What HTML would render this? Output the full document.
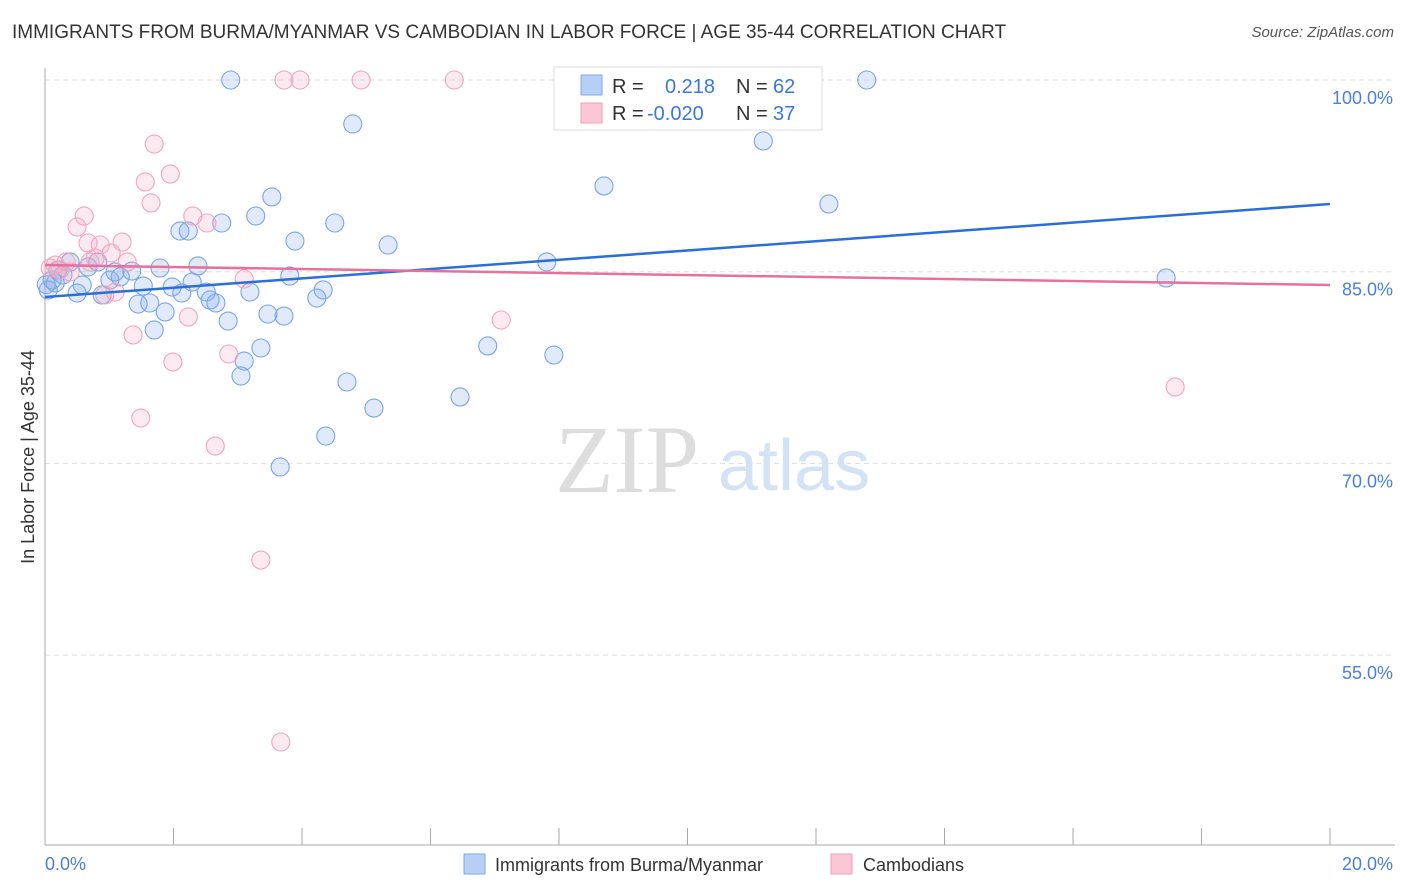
<!DOCTYPE html>
<html><head><meta charset="utf-8"><style>
body{margin:0;background:#fff;font-family:"Liberation Sans",sans-serif;}
#wrap{position:relative;width:1406px;height:892px;overflow:hidden;}
.t{position:absolute;white-space:nowrap;}
</style></head><body>
<div id="wrap">
<div class="t" style="left:12px;top:22px;font-size:19px;color:#333;">IMMIGRANTS FROM BURMA/MYANMAR VS CAMBODIAN IN LABOR FORCE | AGE 35-44 CORRELATION CHART</div>
<div class="t" style="right:12px;top:24px;font-size:15px;color:#555;font-style:italic;">Source: ZipAtlas.com</div>
<svg id="svg" width="1406" height="892" style="position:absolute;left:0;top:0"></svg>
</div>
<script>
const yTicks=[100,85,70,55];
const yTickLabels=["100.0%","85.0%","70.0%","55.0%"];
const blueX=[2.89,4.79,12.79,11.18,8.70,12.20,3.53,3.28,2.75,4.51,2.10,2.23,3.89,5.34,7.81,17.45,2.38,1.79,1.35,0.67,0.82,0.39,0.20,1.17,1.01,0.16,0.58,1.53,1.98,2.29,3.81,2.51,2.13,0.50,0.89,3.19,4.33,4.23,2.57,2.66,1.45,1.63,1.87,1.70,2.85,3.47,3.72,3.36,6.89,7.92,3.10,3.05,4.70,5.12,6.46,4.37,3.66,0.05,0.11,0.28,1.09,0.02];
const blueY=[100,96.56,100,95.23,91.71,90.30,90.85,89.36,88.81,88.81,88.18,88.18,87.40,87.09,85.76,84.51,85.45,85.29,85.05,85.37,85.76,85.76,85.13,84.59,84.35,84.12,83.96,83.88,83.80,84.19,84.66,83.41,83.33,83.33,83.18,83.41,83.57,82.94,82.79,82.55,82.47,82.55,81.85,80.44,81.14,81.69,81.53,79.03,79.19,78.48,78.01,76.84,76.37,74.33,75.20,72.14,69.72,83.57,84.35,84.74,84.98,84.0];
const pinkX=[3.72,3.97,4.92,6.37,1.70,1.95,1.56,1.65,0.61,0.50,2.30,2.52,1.20,0.67,0.86,1.03,1.28,0.78,0.33,0.16,0.08,0.23,3.10,1.09,0.93,7.10,2.23,1.37,1.99,2.86,1.49,2.65,17.59,3.36,3.67,0.39,0.70];
const pinkY=[100,100,100,100,94.99,92.64,92.02,90.38,89.36,88.50,89.36,88.81,87.32,87.25,87.09,86.46,85.76,86.07,85.76,85.52,85.29,85.13,84.43,83.41,83.18,81.22,81.46,80.05,77.93,78.56,73.55,71.36,75.98,62.44,48.20,84.98,85.76];
const blueTrend=[83.02,90.30];
const pinkTrend=[85.52,83.96];
const X=v=>45+v*64.25, Y=v=>80+(100-v)*12.78;
const svg=document.getElementById('svg');const NS='http://www.w3.org/2000/svg';
function mk(tag,attrs,name){const e=document.createElementNS(NS,tag);for(const k in attrs)e.setAttribute(k,attrs[k]);


svg.appendChild(e);return e;}
yTicks.forEach((v,i)=>{mk('line',{x1:45,x2:1395,y1:Y(v),y2:Y(v),stroke:'#ddd','stroke-dasharray':'5,4'},'gridline');
const t=mk('text',{x:1393,y:Y(v)+24,'text-anchor':'end','font-size':18,fill:'#4a7fd4'},'y-tick-label');t.textContent=yTickLabels[i];});
mk('line',{x1:45,x2:45,y1:68,y2:845,stroke:'#aaa'},'y-axis');
mk('line',{x1:45,x2:1395,y1:845,y2:845,stroke:'#aaa'},'x-axis');
for(let i=0;i<=10;i++){mk('line',{x1:X(i*2),x2:X(i*2),y1:828,y2:845,stroke:'#aaa'},'x-tick');}
let t=mk('text',{x:45,y:870,'font-size':18,fill:'#4a7fd4'},'x-min-label');t.textContent='0.0%';
t=mk('text',{x:1393,y:870,'text-anchor':'end','font-size':18,fill:'#4a7fd4'},'x-max-label');t.textContent='20.0%';
t=mk('text',{x:34,y:457,'font-size':18,fill:'#333','text-anchor':'middle',transform:'rotate(-90 34 457)'},'y-axis-title');t.textContent='In Labor Force | Age 35-44';
t=mk('text',{x:555,y:492,'font-size':96,fill:'#ddd','font-family':'Liberation Serif'},'watermark-zip');t.textContent='ZIP';
t=mk('text',{x:718,y:490,'font-size':72,fill:'#d4e2f6'},'watermark-atlas');t.textContent='atlas';
blueX.forEach((x,i)=>mk('circle',{cx:X(x),cy:Y(blueY[i]),r:9,fill:'rgba(130,170,235,0.25)',stroke:'#7aa5e6','stroke-width':1.1},'blue-point'));
pinkX.forEach((x,i)=>mk('circle',{cx:X(x),cy:Y(pinkY[i]),r:9,fill:'rgba(245,170,195,0.25)',stroke:'#efa6bf','stroke-width':1.1},'pink-point'));
mk('line',{x1:X(0),x2:X(20),y1:Y(blueTrend[0]),y2:Y(blueTrend[1]),stroke:'#2a6fd6','stroke-width':2.5},'blue-trend-line');
mk('line',{x1:X(0),x2:X(20),y1:Y(pinkTrend[0]),y2:Y(pinkTrend[1]),stroke:'#e8709a','stroke-width':2.5},'pink-trend-line');
mk('rect',{x:554,y:67,width:268,height:63,fill:'#fff',stroke:'#ddd'},'legend-box');
mk('rect',{x:581,y:75,width:21,height:20,fill:'#b5cff5',stroke:'#7fa8e6'},'legend-blue-swatch');
mk('rect',{x:581,y:103,width:21,height:20,fill:'#fbc6d6',stroke:'#f0a0ba'},'legend-pink-swatch');
[['R = ',612,93,'#333'],['0.218',665,93,'#3a78d8'],['N = ',736,93,'#333'],['62',773,93,'#3a78d8'],
 ['R = ',612,120,'#333'],['-0.020',647,120,'#3a78d8'],['N = ',736,120,'#333'],['37',773,120,'#3a78d8']].forEach(a=>{
 const e=mk('text',{x:a[1],y:a[2],'font-size':20,fill:a[3]},'legend-text');e.textContent=a[0];});
mk('rect',{x:464,y:854,width:21,height:20,fill:'#b5cff5',stroke:'#7fa8e6'},'bottom-legend-blue-swatch');
t=mk('text',{x:495,y:871,'font-size':18,fill:'#333'},'bottom-legend-blue-label');t.textContent='Immigrants from Burma/Myanmar';
mk('rect',{x:831,y:854,width:21,height:20,fill:'#fbc6d6',stroke:'#f0a0ba'},'bottom-legend-pink-swatch');
t=mk('text',{x:863,y:871,'font-size':18,fill:'#333'},'bottom-legend-pink-label');t.textContent='Cambodians';
</script>
</body></html>
